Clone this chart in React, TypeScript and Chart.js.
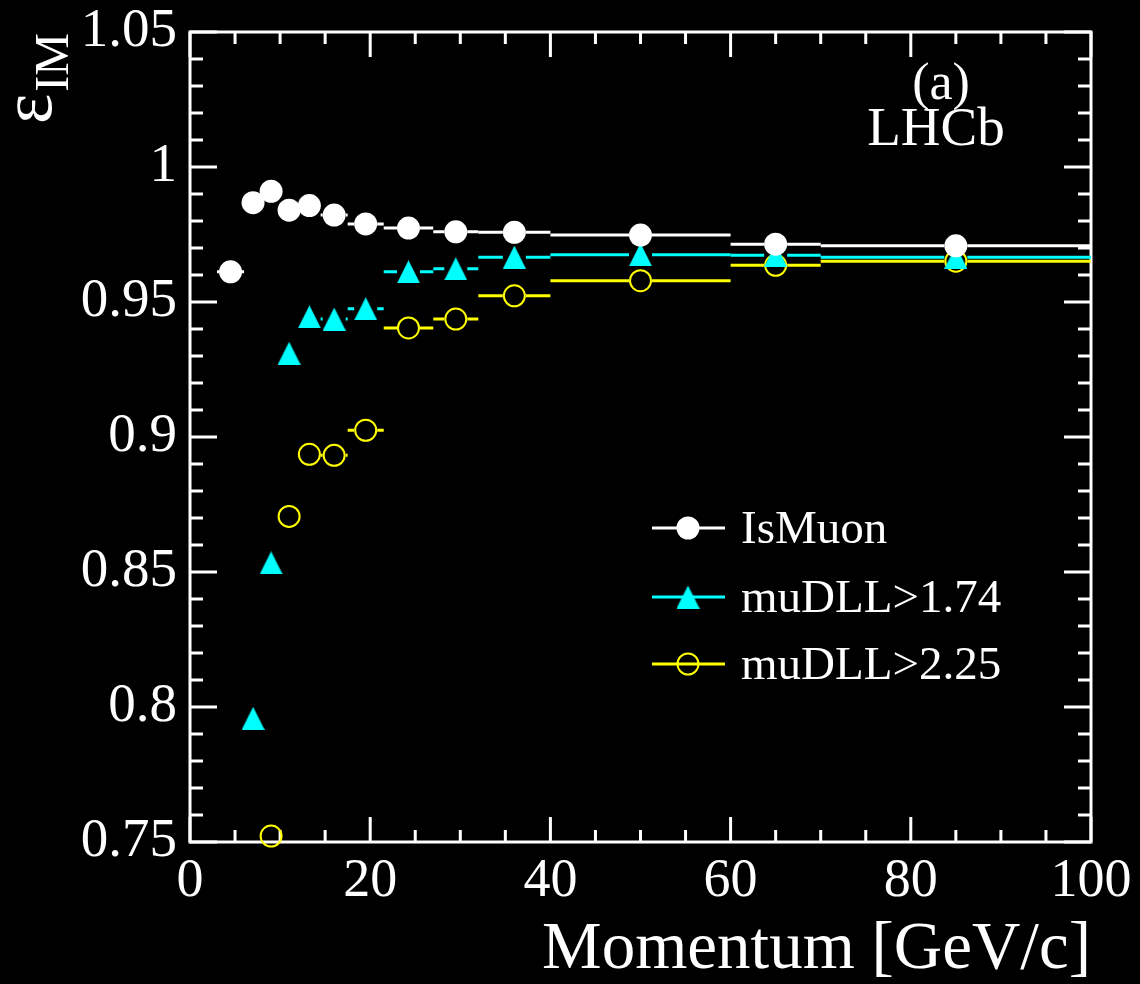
import React, { useEffect, useRef } from 'react';
import { Chart, registerables } from 'chart.js';

Chart.register(...registerables);

// ---- data ----
const binLow = [3, 6, 8, 10, 12, 14.5, 17.5, 21.5, 27, 32, 40, 60, 70];
const binHigh = [6, 8, 10, 12, 14.5, 17.5, 21.5, 27, 32, 40, 60, 70, 100];
const binCenter = [4.5, 7, 9, 11, 13.25, 16, 19.5, 24.25, 29.5, 36, 50, 65, 85];
const isMuonEff = [0.9612, 0.9868, 0.991, 0.984, 0.9857, 0.9822, 0.9789, 0.9774, 0.976, 0.9758, 0.9748, 0.9714, 0.9708];
const dll174Eff = [null, 0.7958, 0.8534, 0.931, 0.9445, 0.9437, 0.9475, 0.9612, 0.9623, 0.9666, 0.9675, 0.9673, 0.9666];
const dll225Eff = [null, null, 0.7522, 0.8706, 0.8936, 0.8932, 0.9025, 0.9404, 0.9437, 0.9523, 0.9579, 0.9636, 0.9651];
const seriesLabels = ['IsMuon', 'muDLL>1.74', 'muDLL>2.25'];
const seriesColors = ['#ffffff', '#00ffff', '#ffff00'];
const xTicks = [0, 20, 40, 60, 80, 100];
const yTicks = [0.75, 0.8, 0.85, 0.9, 0.95, 1, 1.05];
const xMinorStep = 5;
const yMinorStep = 0.01;
const xTitle = 'Momentum [GeV/c]';
const yTitleMain = 'ε';
const yTitleSub = 'IM';
const panelLabel = '(a)';
const expLabel = 'LHCb';

const FONT = "'Liberation Serif', 'Times New Roman', serif";
const MARKER_R = 11.5;

function makeTriangle(color: string, size: number) {
  const c = document.createElement('canvas');
  c.width = size;
  c.height = size;
  const g = c.getContext('2d')!;
  g.fillStyle = color;
  g.beginPath();
  g.moveTo(size / 2, 0);
  g.lineTo(size, size);
  g.lineTo(0, size);
  g.closePath();
  g.fill();
  return c;
}

function toPoints(vals: (number | null)[]) {
  const out: any[] = [];
  vals.forEach((v, i) => {
    if (v !== null) out.push({ x: binCenter[i], y: v, xMin: binLow[i], xMax: binHigh[i] });
  });
  return out;
}

const errorBarPlugin = {
  id: 'errorBars',
  beforeDatasetDraw(chart: any, args: any) {
    const { ctx, scales } = chart;
    const meta = chart.getDatasetMeta(args.index);
    const ds = chart.data.datasets[args.index];
    ctx.save();
    ctx.strokeStyle = seriesColors[args.index];
    ctx.lineWidth = 3;
    meta.data.forEach((el: any, i: number) => {
      const raw = ds.data[i];
      const xl = scales.x.getPixelForValue(raw.xMin);
      const xh = scales.x.getPixelForValue(raw.xMax);
      const cx = el.x;
      const cy = el.y;
      ctx.beginPath();
      if (cx - MARKER_R > xl) {
        ctx.moveTo(xl, cy);
        ctx.lineTo(cx - MARKER_R, cy);
      }
      if (cx + MARKER_R < xh) {
        ctx.moveTo(cx + MARKER_R, cy);
        ctx.lineTo(xh, cy);
      }
      ctx.stroke();
    });
    ctx.restore();
  },
};

const framePlugin = {
  id: 'frame',
  beforeDatasetsDraw(chart: any) {
    const { ctx, chartArea: a, scales } = chart;
    ctx.save();
    ctx.strokeStyle = '#ffffff';
    ctx.lineWidth = 3;
    ctx.strokeRect(a.left, a.top, a.right - a.left, a.bottom - a.top);
    ctx.beginPath();
    const xs = scales.x;
    for (let v = xs.min; v <= xs.max + 1e-9; v += xMinorStep) {
      const major = xTicks.some((t) => Math.abs(t - v) < 1e-6);
      const len = major ? 25 : 12;
      const px = xs.getPixelForValue(v);
      ctx.moveTo(px, a.bottom);
      ctx.lineTo(px, a.bottom - len);
      ctx.moveTo(px, a.top);
      ctx.lineTo(px, a.top + len);
    }
    const ys = scales.y;
    const n = Math.round((ys.max - ys.min) / yMinorStep);
    for (let k = 0; k <= n; k++) {
      const v = ys.min + k * yMinorStep;
      const major = yTicks.some((t) => Math.abs(t - v) < 1e-6);
      const len = major ? 27 : 13;
      const py = ys.getPixelForValue(v);
      ctx.moveTo(a.left, py);
      ctx.lineTo(a.left + len, py);
      ctx.moveTo(a.right, py);
      ctx.lineTo(a.right - len, py);
    }
    ctx.stroke();
    ctx.restore();
  },
};

const textPlugin = {
  id: 'texts',
  afterDraw(chart: any) {
    const { ctx } = chart;
    ctx.save();
    ctx.fillStyle = '#ffffff';
    // y title, rotated
    ctx.save();
    ctx.translate(51, 124);
    ctx.rotate(-Math.PI / 2);
    ctx.textAlign = 'left';
    ctx.textBaseline = 'alphabetic';
    ctx.font = `72px ${FONT}`;
    ctx.fillText(yTitleMain, 0, 0);
    const w = ctx.measureText(yTitleMain).width;
    ctx.font = `48px ${FONT}`;
    ctx.fillText(yTitleSub, w + 2, 17);
    ctx.restore();

    ctx.textAlign = 'center';
    ctx.textBaseline = 'alphabetic';
    ctx.font = `52px ${FONT}`;
    ctx.fillText(panelLabel, 941, 99);
    ctx.font = `55px ${FONT}`;
    ctx.fillText(expLabel, 936, 145);

    // legend
    const rows = [528, 597, 664];
    const lx0 = 652;
    const lx1 = 725;
    const mx = 688;
    chart.data.datasets.forEach((ds: any, i: number) => {
      const y = rows[i];
      ctx.strokeStyle = seriesColors[i];
      ctx.lineWidth = 3;
      ctx.beginPath();
      ctx.moveTo(lx0, y);
      ctx.lineTo(lx1, y);
      ctx.stroke();
      if (i === 0) {
        ctx.fillStyle = seriesColors[0];
        ctx.beginPath();
        ctx.arc(mx, y, MARKER_R, 0, Math.PI * 2);
        ctx.fill();
      } else if (i === 1) {
        const img = ds.pointStyle;
        ctx.drawImage(img, mx - img.width / 2, y - img.height / 2);
      } else {
        ctx.fillStyle = '#000000';
        ctx.beginPath();
        ctx.arc(mx, y, 10.5, 0, Math.PI * 2);
        ctx.fill();
        ctx.strokeStyle = seriesColors[2];
        ctx.lineWidth = 2;
        ctx.beginPath();
        ctx.arc(mx, y, 10.5, 0, Math.PI * 2);
        ctx.stroke();
        ctx.beginPath();
        ctx.lineWidth = 3;
        ctx.moveTo(mx - 10.5, y);
        ctx.lineTo(mx + 10.5, y);
        ctx.stroke();
      }
      ctx.fillStyle = '#ffffff';
      ctx.textAlign = 'left';
      ctx.font = `47px ${FONT}`;
      ctx.fillText(seriesLabels[i], 741, y + 15);
    });
    ctx.restore();
  },
};

export default function App() {
  const ref = useRef<HTMLCanvasElement | null>(null);

  useEffect(() => {
    document.body.style.margin = '0';
    document.body.style.background = '#000';
    const tri = makeTriangle(seriesColors[1], 23);
    const chart = new Chart(ref.current!, {
      type: 'scatter',
      data: {
        datasets: [
          {
            label: seriesLabels[0],
            data: toPoints(isMuonEff),
            pointStyle: 'circle',
            pointRadius: MARKER_R,
            pointBackgroundColor: seriesColors[0],
            pointBorderWidth: 0,
            showLine: false,
            clip: false,
          },
          {
            label: seriesLabels[1],
            data: toPoints(dll174Eff),
            pointStyle: tri,
            pointRadius: MARKER_R,
            showLine: false,
            clip: false,
          },
          {
            label: seriesLabels[2],
            data: toPoints(dll225Eff),
            pointStyle: 'circle',
            pointRadius: 10.5,
            pointBackgroundColor: 'rgba(0,0,0,0)',
            pointBorderColor: seriesColors[2],
            pointBorderWidth: 2,
            showLine: false,
            clip: false,
          },
        ] as any,
      },
      options: {
        animation: false,
        responsive: false,
        devicePixelRatio: 1,
        events: [],
        layout: { padding: { left: 0, right: 49, top: 32, bottom: 0 } },
        plugins: {
          legend: { display: false },
          tooltip: { enabled: false },
        },
        scales: {
          x: {
            type: 'linear',
            min: 0,
            max: 100,
            afterBuildTicks: (s: any) => {
              s.ticks = xTicks.map((v) => ({ value: v }));
            },
            afterFit: (s: any) => {
              s.height = 142;
              s.paddingLeft = 0;
              s.paddingRight = 0;
            },
            grid: { display: false, drawTicks: false },
            border: { display: false },
            ticks: {
              color: '#ffffff',
              font: { family: FONT, size: 54 },
              padding: 7,
              maxRotation: 0,
              autoSkip: false,
              callback: (v: any) => String(v),
            },
            title: {
              display: true,
              text: xTitle,
              align: 'end',
              color: '#ffffff',
              font: { family: FONT, size: 67, lineHeight: 1 },
              padding: { top: 0, bottom: 0 },
            },
          },
          y: {
            type: 'linear',
            min: 0.75,
            max: 1.05,
            afterBuildTicks: (s: any) => {
              s.ticks = yTicks.map((v) => ({ value: v }));
            },
            afterFit: (s: any) => {
              s.width = 190;
              s.paddingTop = 0;
              s.paddingBottom = 0;
            },
            grid: { display: false, drawTicks: false },
            border: { display: false },
            ticks: {
              color: '#ffffff',
              font: { family: FONT, size: 55 },
              padding: 13,
              autoSkip: false,
              callback: (v: any) => String(v),
            },
          },
        },
      } as any,
      plugins: [framePlugin, errorBarPlugin, textPlugin],
    });
    return () => chart.destroy();
  }, []);

  return (
    <div style={{ position: 'absolute', left: 0, top: 0, width: 1140, height: 984, background: '#000' }}>
      <canvas ref={ref} width={1140} height={984} style={{ width: 1140, height: 984, display: 'block' }} />
    </div>
  );
}
